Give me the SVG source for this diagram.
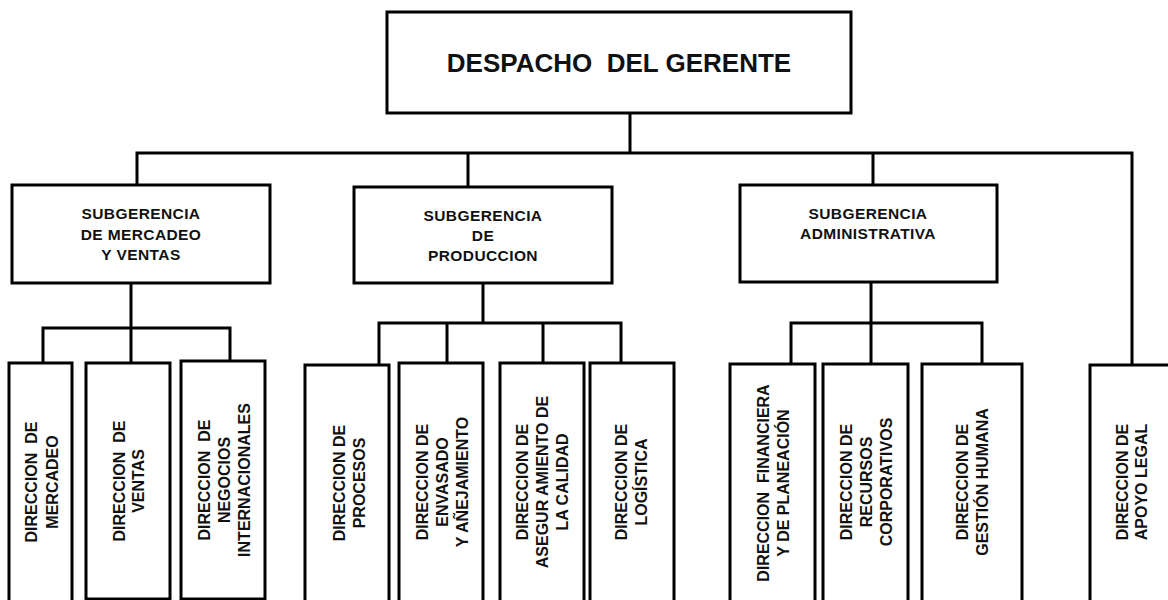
<svg xmlns="http://www.w3.org/2000/svg" width="1168" height="600" viewBox="0 0 1168 600">
<style>
.box{fill:#fff;stroke:#000;stroke-width:3}
.ln{stroke:#000;stroke-width:3;fill:none;stroke-linecap:square}
.t{font-family:"Liberation Sans",Arial,sans-serif;font-weight:bold;fill:#111;text-anchor:middle}
.top{font-size:26px}
.sub{font-size:15.5px;letter-spacing:0.4px}
.leaf{font-size:16px}
</style>
<rect width="1168" height="600" fill="#fff"/>
<g id="connectors">
<path class="ln" d="M630 113V153M137 153H1132M137 153V185M468 153V187M873 153V185M1132 153V365"/>
<path class="ln" d="M131 283V328M43 328H230M43 328V363M131 328V363M230 328V361"/>
<path class="ln" d="M483 283V323M379 323H621M379 323V365M447 323V363M543 323V363M621 323V363"/>
<path class="ln" d="M871 282V323M791 323H982M791 323V364M871 323V364M982 323V364"/>
</g>
<g id="gerente">
<rect class="box" x="387" y="12" width="464" height="101"/>
<text class="t top" x="619" y="72">DESPACHO&#160; DEL GERENTE</text>
</g>
<g id="sub-mercadeo">
<rect class="box" x="12" y="185" width="258" height="98"/>
<text class="t sub"><tspan x="141" y="219">SUBGERENCIA</tspan><tspan x="141" y="240">DE MERCADEO</tspan><tspan x="141" y="260">Y VENTAS</tspan></text>
</g>
<g id="sub-produccion">
<rect class="box" x="354" y="187" width="258" height="96"/>
<text class="t sub"><tspan x="483" y="221">SUBGERENCIA</tspan><tspan x="483" y="241">DE</tspan><tspan x="483" y="261">PRODUCCION</tspan></text>
</g>
<g id="sub-administrativa">
<rect class="box" x="740" y="185" width="257" height="97"/>
<text class="t sub"><tspan x="868" y="219">SUBGERENCIA</tspan><tspan x="868" y="239">ADMINISTRATIVA</tspan></text>
</g>
<g id="dir-mercadeo">
<rect class="box" x="9" y="363" width="63" height="245"/>
<text class="t leaf" transform="rotate(-90)"><tspan x="-482" y="37">DIRECCION&#160; DE</tspan><tspan x="-482" y="58">MERCADEO</tspan></text>
</g>
<g id="dir-ventas">
<rect class="box" x="86" y="363" width="84" height="236"/>
<text class="t leaf" transform="rotate(-90)"><tspan x="-481" y="125">DIRECCION&#160; DE</tspan><tspan x="-481" y="144">VENTAS</tspan></text>
</g>
<g id="dir-negocios">
<rect class="box" x="181" y="361" width="84" height="238"/>
<text class="t leaf" transform="rotate(-90)"><tspan x="-480" y="210">DIRECCION&#160; DE</tspan><tspan x="-480" y="230">NEGOCIOS</tspan><tspan x="-480" y="250">INTERNACIONALES</tspan></text>
</g>
<g id="dir-procesos">
<rect class="box" x="305" y="365" width="84" height="243"/>
<text class="t leaf" transform="rotate(-90)"><tspan x="-483" y="345">DIRECCION DE</tspan><tspan x="-483" y="365">PROCESOS</tspan></text>
</g>
<g id="dir-envasado">
<rect class="box" x="399" y="363" width="84" height="245"/>
<text class="t leaf" transform="rotate(-90)"><tspan x="-482" y="428">DIRECCION DE</tspan><tspan x="-482" y="448">ENVASADO</tspan><tspan x="-482" y="468">Y AÑEJAMIENTO</tspan></text>
</g>
<g id="dir-calidad">
<rect class="box" x="500" y="363" width="84" height="245"/>
<text class="t leaf" transform="rotate(-90)"><tspan x="-482" y="528">DIRECCION DE</tspan><tspan x="-482" y="548">ASEGUR AMIENTO DE</tspan><tspan x="-482" y="568">LA CALIDAD</tspan></text>
</g>
<g id="dir-logistica">
<rect class="box" x="590" y="363" width="84" height="245"/>
<text class="t leaf" transform="rotate(-90)"><tspan x="-482" y="627">DIRECCION DE</tspan><tspan x="-482" y="647">LOGÍSTICA</tspan></text>
</g>
<g id="dir-financiera">
<rect class="box" x="730" y="364" width="85" height="244"/>
<text class="t leaf" transform="rotate(-90)"><tspan x="-483" y="769">DIRECCION&#160; FINANCIERA</tspan><tspan x="-483" y="789">Y DE PLANEACIÓN</tspan></text>
</g>
<g id="dir-recursos">
<rect class="box" x="823" y="364" width="85" height="244"/>
<text class="t leaf" transform="rotate(-90)"><tspan x="-482" y="852">DIRECCION DE</tspan><tspan x="-482" y="872">RECURSOS</tspan><tspan x="-482" y="892">CORPORATIVOS</tspan></text>
</g>
<g id="dir-gestion">
<rect class="box" x="922" y="364" width="100" height="244"/>
<text class="t leaf" transform="rotate(-90)"><tspan x="-482" y="968">DIRECCION DE</tspan><tspan x="-482" y="988">GESTIÓN HUMANA</tspan></text>
</g>
<g id="dir-legal">
<rect class="box" x="1090" y="365" width="90" height="243"/>
<text class="t leaf" transform="rotate(-90)"><tspan x="-482" y="1128">DIRECCION DE</tspan><tspan x="-482" y="1147">APOYO LEGAL</tspan></text>
</g>
</svg>
